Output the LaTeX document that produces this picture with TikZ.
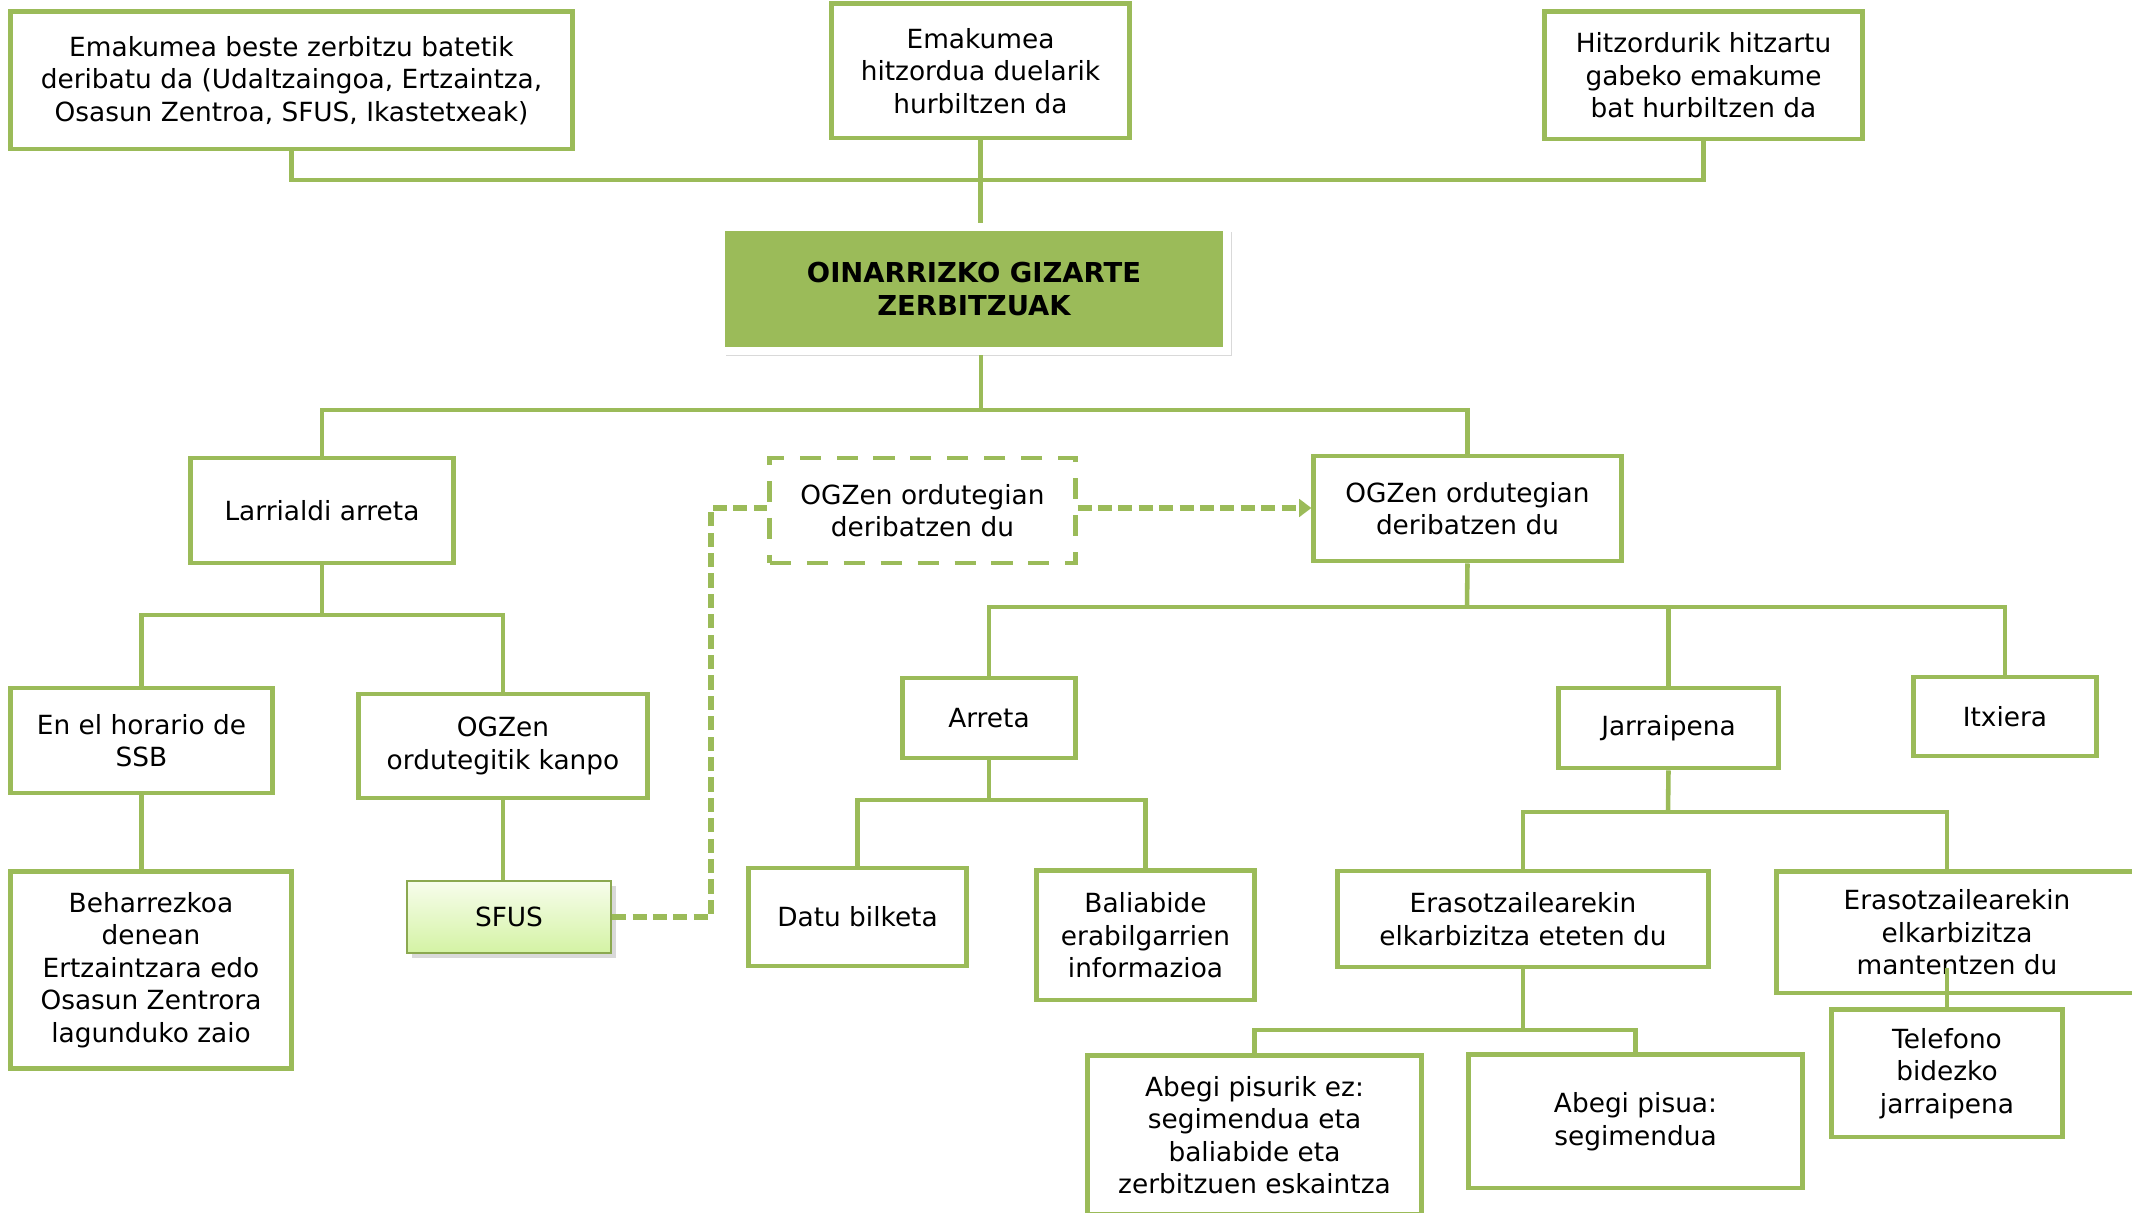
\documentclass[tikz,border=0pt]{standalone}
\usepackage{fontspec}
\setmainfont{DejaVu Sans}
\usetikzlibrary{arrows,arrows.meta}
\usetikzlibrary{shadows}
\definecolor{ogreen}{RGB}{155,187,89}
\definecolor{sfustop}{RGB}{247,253,236}
\definecolor{sfusbot}{RGB}{212,243,164}

\begin{document}
\begin{tikzpicture}[line join=miter,>={Triangle[length=3.5pt,width=5pt]},x=0.01cm,y=-0.01cm,
  box/.style={draw=ogreen,line width=1.4pt,fill=white,align=center,inner sep=0pt,font=\fontsize{7.5}{9.25}\selectfont},
  conn/.style={draw=ogreen,line width=1.3pt},
  dconn/.style={draw=ogreen,line width=1.6pt,dash pattern=on 4pt off 1.8pt}]
\useasboundingbox (0,0) rectangle (2132,1213);
\node[box,minimum width=5.61cm,minimum height=1.37cm] (emA) at (291.5,80.5) {Emakumea beste zerbitzu batetik\\deribatu da (Udaltzaingoa, Ertzaintza,\\Osasun Zentroa, SFUS, Ikastetxeak)};
\node[box,minimum width=2.97cm,minimum height=1.34cm] (emB) at (980.5,71) {Emakumea\\hitzordua duelarik\\hurbiltzen da};
\node[box,minimum width=3.17cm,minimum height=1.27cm] (emC) at (1703.5,75.5) {Hitzordurik hitzartu\\gabeko emakume\\bat hurbiltzen da};
\node[box,draw=white,line width=0.08cm,fill=ogreen,minimum width=5.06cm,minimum height=1.24cm,
  font=\bfseries\fontsize{7.8}{9.2}\selectfont,drop shadow={opacity=0.3,shadow xshift=1.5pt,shadow yshift=-1.5pt}] (ogz) at (974,289) {OINARRIZKO GIZARTE\\ZERBITZUAK};
\node[box,minimum width=2.62cm,minimum height=1.05cm] (larri) at (322,510.5) {Larrialdi arreta};
\node[box,dash pattern=on 6pt off 4.5pt,minimum width=3.05cm,minimum height=1.05cm] (deriD) at (922.5,510.5) {OGZen ordutegian\\deribatzen du};
\node[box,minimum width=3.07cm,minimum height=1.05cm] (deriR) at (1467.5,508.5) {OGZen ordutegian\\deribatzen du};
\node[box,minimum width=2.61cm,minimum height=1.05cm] (horario) at (141.5,740.5) {En el horario de\\SSB};
\node[box,minimum width=2.88cm,minimum height=1.04cm] (kanpo) at (503,746) {OGZen\\ordutegitik kanpo};
\node[box,minimum width=1.72cm,minimum height=0.80cm] (arreta) at (989,718) {Arreta};
\node[box,minimum width=2.19cm,minimum height=0.80cm] (jarrai) at (1668.5,728) {Jarraipena};
\node[box,minimum width=1.82cm,minimum height=0.79cm] (itxiera) at (2005,716.5) {Itxiera};
\node[box,minimum width=2.80cm,minimum height=1.96cm] (behar) at (151,970) {Beharrezkoa\\denean\\Ertzaintzara edo\\Osasun Zentrora\\lagunduko zaio};
\node[box,draw=ogreen!90!black,line width=0.6pt,top color=sfustop,bottom color=sfusbot,minimum width=2.04cm,minimum height=0.72cm,
  drop shadow={opacity=0.3,shadow xshift=1.5pt,shadow yshift=-1.5pt}] (sfus) at (509,917) {SFUS};
\node[box,minimum width=2.17cm,minimum height=0.98cm] (datu) at (857.5,917) {Datu bilketa};
\node[box,minimum width=2.17cm,minimum height=1.29cm] (balia) at (1145.5,935.5) {Baliabide\\erabilgarrien\\informazioa};
\node[box,minimum width=3.70cm,minimum height=0.96cm] (eraso1) at (1523,919) {Erasotzailearekin\\elkarbizitza eteten du};
\node[box,minimum width=3.60cm,minimum height=1.21cm] (eraso2) at (1957,932.5) {Erasotzailearekin\\elkarbizitza\\mantentzen du};
\node[box,minimum width=3.33cm,minimum height=1.58cm] (abegi1) at (1254.5,1135) {Abegi pisurik ez:\\segimendua eta\\baliabide eta\\zerbitzuen eskaintza};
\node[box,minimum width=3.33cm,minimum height=1.33cm] (abegi2) at (1635.5,1121.5) {Abegi pisua:\\segimendua};
\node[box,minimum width=2.30cm,minimum height=1.27cm] (tel) at (1947,1073.5) {Telefono\\bidezko\\jarraipena};
\coordinate (bus1) at (981,180);
\coordinate (bus2) at (981,410);
\coordinate (bus3) at (322,615);
\coordinate (bus4) at (1467,607);
\coordinate (bus5) at (989,800);
\coordinate (bus6) at (1668,812);
\coordinate (bus7) at (1523,1030);
\coordinate (telin) at (1947,968);
\coordinate (dbend) at (711,508);
\draw[conn] (emA.south) |- (bus1) -| (emC.south);
\draw[conn] (emB.south) -- (emB.south |- ogz.north);
\draw[conn] (ogz.south -| bus2) -- (bus2);
\draw[conn] (larri.north) |- (bus2) -| (deriR.north);
\draw[conn] (larri.south) -- (bus3);
\draw[conn] (horario.north) |- (bus3) -| (kanpo.north);
\draw[conn] (horario.south) -- (horario.south |- behar.north);
\draw[conn] (kanpo.south) -- (kanpo.south |- sfus.north);
\draw[conn] (deriR.south) -- (bus4);
\draw[conn] (arreta.north) |- (bus4) -| (itxiera.north);
\draw[conn] (jarrai.north) -- (jarrai.north |- bus4);
\draw[conn] (arreta.south) -- (bus5);
\draw[conn] (datu.north) |- (bus5) -| (balia.north);
\draw[conn] (jarrai.south) -- (bus6);
\draw[conn] (eraso1.north) |- (bus6) -| (tel.north |- eraso2.north);
\draw[conn] (eraso1.south) -- (bus7);
\draw[conn] (abegi1.north) |- (bus7) -| (abegi2.north);
\draw[conn] (telin) -- (tel.north);
\draw[dconn] (sfus.east) -| (dbend) -- (dbend -| deriD.west);
\draw[dconn,->] (dbend -| deriD.east) -- (dbend -| deriR.west);
\end{tikzpicture}
\end{document}
